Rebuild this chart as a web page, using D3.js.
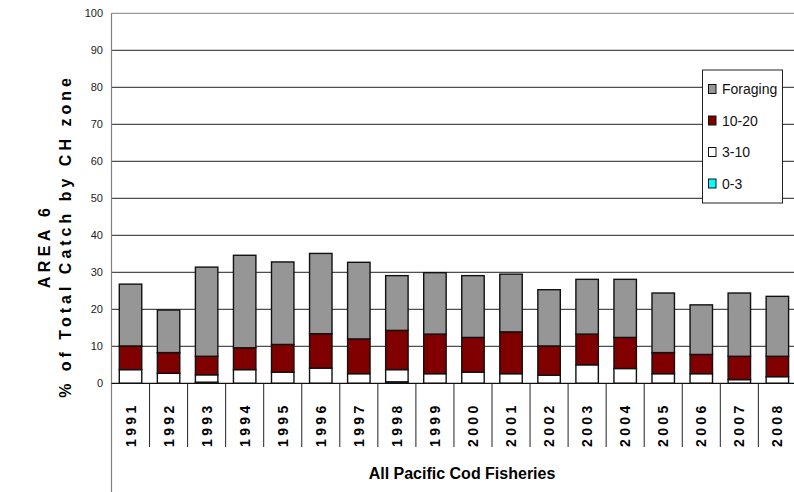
<!DOCTYPE html>
<html><head><meta charset="utf-8">
<script src="https://cdn.jsdelivr.net/npm/d3@7"></script>
<style>html,body{margin:0;padding:0;background:#fff;overflow:hidden}svg{display:block;font-family:"Liberation Sans",Arial,sans-serif}</style>
</head><body><svg id="c" width="794" height="492"></svg>
<script>
const years = ["1991","1992","1993","1994","1995","1996","1997","1998","1999","2000","2001","2002","2003","2004","2005","2006","2007","2008"];
const zone0to3   = [0,0,0.3,0,0,0,0,0.4,0,0,0,0,0,0,0,0,0,0];
const zone3to10  = [3.7,2.7,2.0,3.7,3.0,4.1,2.6,3.3,2.6,3.0,2.6,2.2,5.0,4.0,2.6,2.6,1.0,1.8];
const zone10to20 = [6.4,5.6,5.0,5.9,7.5,9.3,9.4,10.6,10.7,9.4,11.3,7.9,8.3,8.4,5.7,5.2,6.3,5.5];
const foraging   = [16.7,11.5,24.1,25.0,22.3,21.7,20.7,14.8,16.6,16.7,15.6,15.2,14.8,15.7,16.1,13.4,17.1,16.2];
const yTicks = [0,10,20,30,40,50,60,70,80,90,100];
const seriesNames = ["0-3","3-10","10-20","Foraging"];
const seriesColors = ["#00FFFF","#FFFFFF","#800000","#969696"];

const svg = d3.select("#c");
const x0 = 111.5, step = 38.05;
const x = d3.scaleBand().domain(years).range([x0, x0 + step*years.length]).paddingInner(0.41).paddingOuter(0.205);
const y = d3.scaleLinear().domain([0,100]).range([383.3,13.3]);
const W = 794;

// gridlines
svg.append("g").selectAll("line").data(yTicks.filter(d=>d>0)).join("line")
  .attr("x1", x0).attr("x2", W).attr("y1", d=>y(d)).attr("y2", d=>y(d))
  .attr("stroke", d=> d===100 ? "#808080" : "#222").attr("stroke-width",1);

// stacked bars
const table = years.map((yr,i)=>({year:yr, "0-3":zone0to3[i], "3-10":zone3to10[i], "10-20":zone10to20[i], "Foraging":foraging[i]}));
const stack = d3.stack().keys(seriesNames)(table);
const gBars = svg.append("g");
stack.forEach((s,si)=>{
  gBars.append("g").selectAll("rect").data(s.filter(d=>d[1]-d[0]>0)).join("rect")
    .attr("x", d=>x(d.data.year)).attr("width", x.bandwidth())
    .attr("y", d=>y(d[1])).attr("height", d=>y(d[0])-y(d[1]))
    .attr("fill", seriesColors[si]).attr("stroke","#111").attr("stroke-width",1.4);
});

// y axis line
svg.append("line").attr("x1",x0).attr("x2",x0).attr("y1",y(100)).attr("y2",492).attr("stroke","#808080").attr("stroke-width",1.2);
// x axis line
svg.append("line").attr("x1",x0).attr("x2",W).attr("y1",y(0)).attr("y2",y(0)).attr("stroke","#111").attr("stroke-width",1.2);

// y tick labels
svg.append("g").selectAll("text").data(yTicks).join("text")
  .attr("x",103).attr("y",d=>y(d)).attr("dy","0.35em").attr("text-anchor","end")
  .attr("font-size","11px").attr("fill","#222").text(d=>d);

// category dividers
const bounds = years.map(d=>x(d) - x.step()*x.paddingInner()/2 + x.step()).slice(0,-1);
svg.append("g").selectAll("line").data(bounds).join("line")
  .attr("x1",d=>d).attr("x2",d=>d).attr("y1",y(0)).attr("y2",447)
  .attr("stroke","#222").attr("stroke-width",1);

// year labels
svg.append("g").selectAll("text").data(years).join("text")
  .attr("transform", d=>`translate(${x(d)+x.bandwidth()/2},447) rotate(-90)`)
  .attr("dy","0.36em").attr("text-anchor","start")
  .attr("font-size","14px").attr("font-weight","bold").attr("letter-spacing","3.4px")
  .attr("fill","#000").text(d=>d);

// x title
svg.append("text").attr("x", 462).attr("y",479)
  .attr("text-anchor","middle").attr("font-size","16px").attr("font-weight","bold")
  .attr("fill","#000").text("All Pacific Cod Fisheries");

// y title
const yt = svg.append("text").attr("transform","translate(0,236) rotate(-90)")
  .attr("text-anchor","middle").attr("font-size","16px").attr("font-weight","bold").attr("fill","#000");
yt.append("tspan").attr("x",-10).attr("y",50).attr("letter-spacing","4.4px").text("AREA 6");
yt.append("tspan").attr("x",0).attr("y",71).attr("letter-spacing","4px").text("% of Total Catch by CH zone");

// legend
const lg = svg.append("g");
lg.append("rect").attr("x",702.5).attr("y",70).attr("width",80).attr("height",133)
  .attr("fill","#fff").attr("stroke","#222").attr("stroke-width",1);
const legendOrder = [3,2,1,0];
legendOrder.forEach((si,k)=>{
  const cy = 89 + k*31.5;
  lg.append("rect").attr("x",708.5).attr("y",cy-4.5).attr("width",7.5).attr("height",9)
    .attr("fill",seriesColors[si]).attr("stroke","#111").attr("stroke-width",1);
  lg.append("text").attr("x",722).attr("y",cy).attr("dy","0.36em")
    .attr("font-size","14px").attr("fill","#111").text(seriesNames[si]);
});
</script></body></html>
